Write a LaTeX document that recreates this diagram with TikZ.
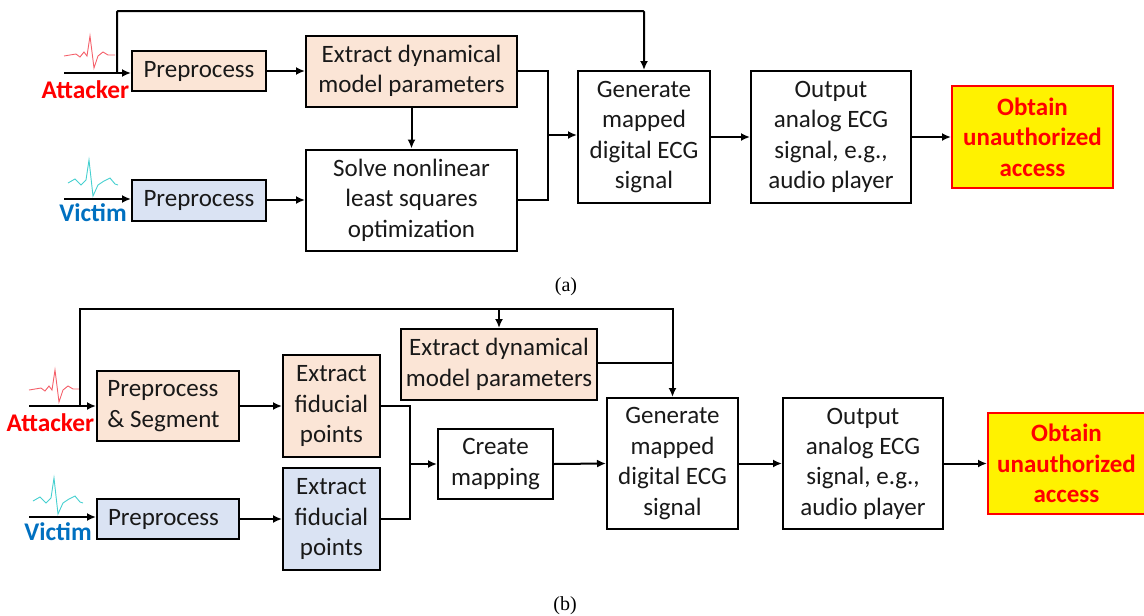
\documentclass[tikz,border=0pt]{standalone}
\usepackage{fontspec}
\setmainfont{Carlito}
\newfontfamily\capfont{Liberation Serif}
\usetikzlibrary{arrows.meta}
\definecolor{peach}{HTML}{FBE5D6}
\definecolor{pale}{HTML}{DAE3F3}
\definecolor{atk}{HTML}{FF0000}
\definecolor{vic}{HTML}{0070C0}
\definecolor{ecgr}{HTML}{F4606A}
\definecolor{ecgc}{HTML}{45D0D0}
\tikzset{
 x=1pt,y=-1pt,
 boxn/.style={draw=black,line width=2pt,align=center,inner sep=0pt,font=\fontsize{25}{30.4}\selectfont,text=black!90,execute at begin node={\vspace*{4pt}}},
 peachbox/.style={boxn,fill=peach},
 palebox/.style={boxn,fill=pale},
 whitebox/.style={boxn,fill=white},
 goalbox/.style={draw=red,line width=2pt,fill=yellow,align=center,inner sep=0pt,text=red,font=\fontsize{25}{30.4}\selectfont\bfseries},
 arr/.style={line width=2pt,-{Latex[length=9pt,width=8pt]}},
 ln/.style={line width=2pt},
 who/.style={font=\fontsize{25.4}{28}\selectfont\bfseries,inner sep=0pt},
 captext/.style={font=\capfont\fontsize{20}{22}\selectfont,inner sep=0pt},
 ecgA/.style={color=ecgr,line width=0.9pt},
 ecgV/.style={color=ecgc,line width=0.9pt},
}
\newcommand{\attwave}[2]{\draw[ecgA,shift={(#1,#2)}] (64,56)--(70,55)--(76,54)--(80,57)--(84,52)--(87,56)--(90,36)--(94,68)--(98,56)--(103,52)--(108,55)--(115,55);}
\newcommand{\vicwave}[2]{\draw[ecgV,shift={(#1,#2)}] (68,183)--(75,179)--(81,185)--(86,180)--(89,160)--(93,196)--(98,185)--(104,181)--(110,178)--(115,184)--(118,185);}
\begin{document}
\begin{tikzpicture}
\path[use as bounding box] (0,0) rectangle (1144,616);
% ---- (a)
\node[peachbox,minimum width=134pt,minimum height=40pt] (ap) at (199,71) {Preprocess};
\node[palebox,minimum width=134pt,minimum height=41pt] (vp) at (199,200) {Preprocess};
\node[peachbox,minimum width=211pt,minimum height=71pt] (ax) at (411.5,71) {Extract dynamical\\model parameters};
\node[whitebox,minimum width=211pt,minimum height=101pt] (as) at (411.5,200) {Solve nonlinear\\least squares\\optimization};
\node[whitebox,minimum width=132pt,minimum height=132pt] (ag) at (644,137) {Generate\\mapped\\digital ECG\\signal};
\node[whitebox,minimum width=160pt,minimum height=132pt] (ao) at (831,137) {Output\\analog ECG\\signal, e.g.,\\audio player};
\node[goalbox,minimum width=161pt,minimum height=102pt] (ag2) at (1032.5,137) {Obtain\\unauthorized\\access};
\node[who,text=atk] (aa) at (85.5,90) {Attacker};
\node[who,text=vic] (av) at (93,213) {Victim};
\node[captext] (capa) at (566,287) {(a)};
\attwave{0}{0}
\vicwave{0}{0}
\coordinate (ain) at (64,73);
\coordinate (vin) at (64,199);
\coordinate (abr) at (117,73);
\coordinate (atop) at (117,11);
\coordinate (ajn) at (548,135);
\draw[arr] (ain) -- (ap.west |- ain);
\draw[arr] (vin) -- (vp.west |- vin);
\draw[arr,rounded corners=1pt] (abr) -- (atop) -| (ag.north);
\draw[arr] (ap.east) -- (ax.west |- ap.east);
\draw[arr] (vp.east) -- (as.west |- vp.east);
\draw[arr] (ax.south) -- (as.north);
\draw[ln] (ax.east) -| (ajn);
\draw[ln] (as.east) -| (ajn);
\draw[arr] (ajn) -- (ag.west |- ajn);
\draw[arr] (ag.east) -- (ao.west);
\draw[arr] (ao.east) -- (ag2.west);
% ---- (b)
\node[peachbox,minimum width=142pt,minimum height=70pt,align=left] (bp) at (168,406) {\hspace*{-9pt}Preprocess\\\hspace*{-9pt}\& Segment};
\node[palebox,minimum width=142pt,minimum height=40pt] (bv) at (168,519) {\hspace*{-9pt}Preprocess};
\node[peachbox,minimum width=97pt,minimum height=102pt] (bf1) at (331.5,406) {Extract\\fiducial\\points};
\node[palebox,minimum width=97pt,minimum height=102pt] (bf2) at (331.5,519) {Extract\\fiducial\\points};
\node[whitebox,minimum width=115pt,minimum height=70pt] (bc) at (495.5,464) {Create\\mapping};
\node[peachbox,minimum width=196pt,minimum height=71pt] (bx) at (499,364.5) {Extract dynamical\\model parameters};
\node[whitebox,minimum width=131pt,minimum height=131pt] (bg) at (672.5,463.5) {Generate\\mapped\\digital ECG\\signal};
\node[whitebox,minimum width=160pt,minimum height=131pt] (bo) at (863,463.5) {Output\\analog ECG\\signal, e.g.,\\audio player};
\node[goalbox,minimum width=157pt,minimum height=101pt] (bg2) at (1066.5,463.5) {Obtain\\unauthorized\\access};
\node[who,text=atk] (ba) at (50.5,423) {Attacker};
\node[who,text=vic] (bw) at (58,532) {Victim};
\node[captext] (capb) at (565,606) {(b)};
\attwave{-35}{334}
\vicwave{-35}{318}
\coordinate (bin) at (29,406);
\coordinate (bvin) at (29,517);
\coordinate (bbr) at (80,406);
\coordinate (btop) at (80,309);
\coordinate (bxt) at (499,309);
\coordinate (bjn) at (410,464);
\coordinate (bjx) at (672,363);
\draw[arr] (bin) -- (bp.west |- bin);
\draw[arr] (bvin) -- (bv.west |- bvin);
\draw[arr] (bbr) -- (btop) -| (bg.north);
\draw[arr] (bxt) -- (bx.north);
\draw[ln] (bx.east |- bjx) -- (bjx);
\draw[arr] (bp.east) -- (bf1.west);
\draw[arr] (bv.east) -- (bf2.west);
\draw[ln] (bf1.east) -| (bjn);
\draw[ln] (bf2.east) -| (bjn);
\draw[arr] (bjn) -- (bc.west);
\draw[arr] (bc.east) -- (bg.west);
\draw[arr] (bg.east) -- (bo.west);
\draw[arr] (bo.east) -- (bg2.west);
\end{tikzpicture}
\end{document}
